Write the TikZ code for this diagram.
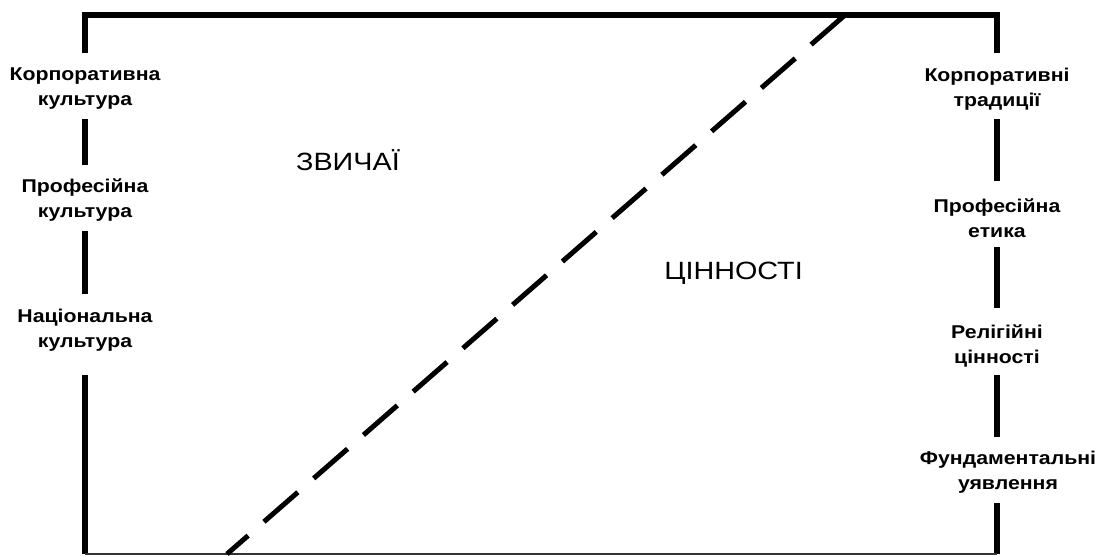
\documentclass[tikz,border=0pt]{standalone}
\usepackage{fontspec}
\setmainfont{Liberation Sans}
\newfontfamily\widesans[FakeStretch=1.15]{Liberation Sans}
\begin{document}
\begin{tikzpicture}[x=1pt,y=-1pt,
  frame/.style={line width=5.5pt},
  baseline/.style={line width=1.2pt,draw=black!80},
  divider/.style={line width=5pt,dash pattern=on 45pt off 21pt},
  gap/.style={inner sep=0pt,outer sep=0pt,minimum width=10pt,minimum height=#1},
  level/.style={inner sep=0pt,align=center,
    font=\widesans\bfseries\fontsize{18.5}{25}\selectfont},
  zone/.style={inner sep=0pt,font=\widesans\fontsize{25}{30}\selectfont}]
\useasboundingbox (0,0) rectangle (1102,556);
% corners of the frame
\coordinate (tl) at (85,15);
\coordinate (tr) at (997,15);
\coordinate (bl) at (85,554);
\coordinate (br) at (997,554);
% end points of the dashed divider
\coordinate (dtop) at (845,15);
\coordinate (dbot) at (227,554);
% left scale: each level interrupts the frame line
\node[gap=66pt,label={[level,yshift=-3pt]center:Корпоративна\\культура}] (l1) at (85,86) {};
\node[gap=66pt,label={[level,yshift=-2pt]center:Професійна\\культура}] (l2) at (85,198) {};
\node[gap=81pt,label={[level,yshift=4pt]center:Національна\\культура}] (l3) at (85,334.5) {};
% right scale
\node[gap=66pt,label={[level,yshift=-3pt]center:Корпоративні\\традиції}] (r1) at (997,86) {};
\node[gap=66pt,label={[level,yshift=-4pt]center:Професійна\\етика}] (r2) at (997,214) {};
\node[gap=67pt,label={[level,yshift=-4pt]center:Релігійні\\цінності}] (r3) at (997,341.5) {};
\node[gap=66pt,label={[level,yshift=-2pt,xshift=11pt]center:Фундаментальні\\уявлення}] (r4) at (997,470) {};
% zones
\node[zone,anchor=west] (customs) at (296,160) {ЗВИЧАЇ};
\node[zone] (values) at (733.5,273) {ЦІННОСТІ};
% frame
\draw[frame,line join=miter] (l1) -- (tl) -- (tr) -- (r1);
\draw[frame] (l1) -- (l2);
\draw[frame] (l2) -- (l3);
\draw[frame] (l3) -- (bl);
\draw[frame] (r1) -- (r2);
\draw[frame] (r2) -- (r3);
\draw[frame] (r3) -- (r4);
\draw[frame] (r4) -- (br);
\draw[baseline] (bl) -- (br);
% dashed divider
\draw[divider] (dtop) -- (dbot);
\end{tikzpicture}
\end{document}
